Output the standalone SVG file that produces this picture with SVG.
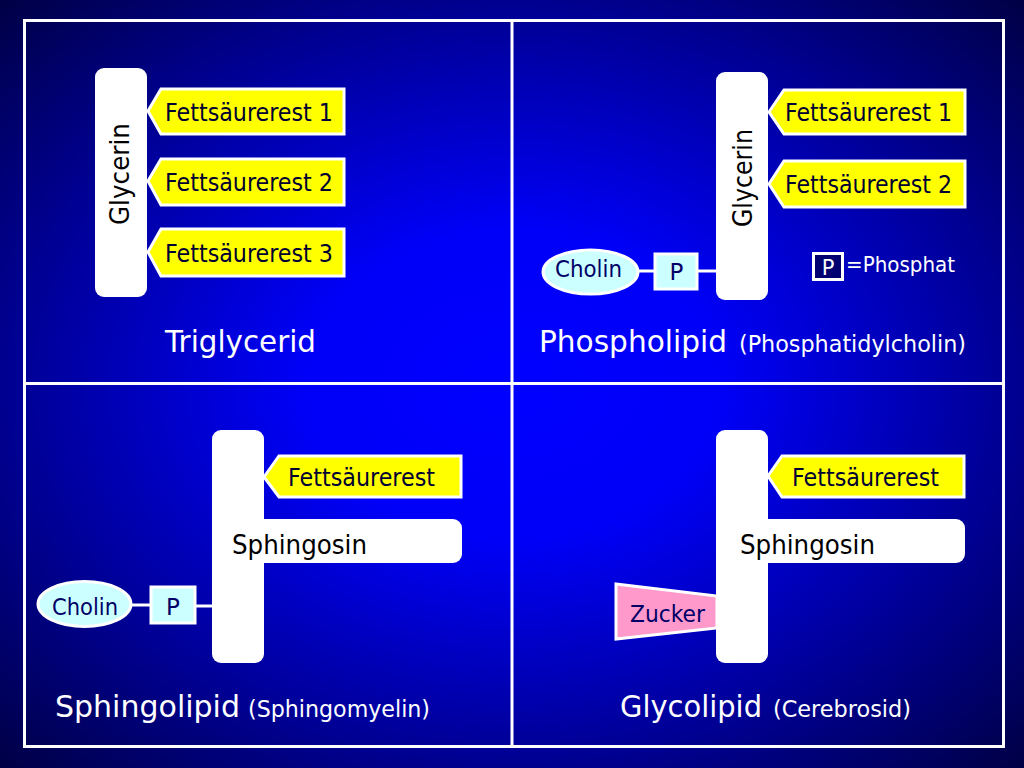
<svg xmlns="http://www.w3.org/2000/svg" width="1024" height="768" viewBox="0 0 1024 768">
<defs>
<radialGradient id="bg" cx="0.5" cy="0.5" r="0.72">
<stop offset="0" stop-color="#0000ff"/>
<stop offset="0.28" stop-color="#0000f8"/>
<stop offset="1" stop-color="#000040"/>
</radialGradient>
<style>
.t{font-family:"DejaVu Sans","Liberation Sans",sans-serif}
.bar{fill:#ffffff}
.fs{fill:#ffff00;stroke:#ffffff;stroke-width:3;stroke-linejoin:miter}
.fst{font-size:24px;fill:#000033}
.cy{fill:#ccffff;stroke:#ffffff;stroke-width:3}
.cyt{font-size:23px;fill:#000066}
.lbl{font-size:30px;fill:#ffffff}
.sub{font-size:23px;fill:#ffffff}
.con{stroke:#ffffff;stroke-width:3;fill:none}
.gly{font-size:26px;fill:#000000}
</style>
</defs>
<rect x="0" y="0" width="1024" height="768" fill="url(#bg)"/>
<g id="frame" fill="none" stroke="#ffffff" stroke-width="3">
<rect x="24.5" y="20.5" width="979" height="726"/>
<line x1="512" y1="20.5" x2="512" y2="746.5"/>
<line x1="24.5" y1="383.5" x2="1003.5" y2="383.5"/>
</g>

<g id="connectors">
<line class="con" x1="639" y1="271" x2="655" y2="271"/>
<line class="con" x1="697" y1="271" x2="717" y2="271"/>
<line class="con" x1="131" y1="605" x2="151" y2="605"/>
<line class="con" x1="195" y1="606" x2="213" y2="606"/>
</g>

<!-- Panel 1: Triglycerid -->
<g id="glycerin1">
<rect class="bar" x="95" y="68" width="52" height="229" rx="9"/>
<text class="t gly" transform="translate(129,174) rotate(-90)" text-anchor="middle" textLength="102" lengthAdjust="spacingAndGlyphs">Glycerin</text>
</g>
<g id="fs1-1">
<polygon class="fs" points="148,111 161,89 344,89 344,134 161,134"/>
<text class="t fst" x="165" y="121" textLength="168" lengthAdjust="spacingAndGlyphs">Fettsäurerest 1</text>
</g>
<g id="fs1-2">
<polygon class="fs" points="148,181 161,159 344,159 344,205 161,205"/>
<text class="t fst" x="165" y="191" textLength="168" lengthAdjust="spacingAndGlyphs">Fettsäurerest 2</text>
</g>
<g id="fs1-3">
<polygon class="fs" points="148,252 161,229 344,229 344,276 161,276"/>
<text class="t fst" x="165" y="262" textLength="168" lengthAdjust="spacingAndGlyphs">Fettsäurerest 3</text>
</g>
<g id="label1">
<text class="t lbl" x="165" y="352" textLength="151" lengthAdjust="spacingAndGlyphs">Triglycerid</text>
</g>

<!-- Panel 2: Phospholipid -->
<g id="glycerin2">
<rect class="bar" x="716" y="72" width="52" height="228" rx="9"/>
<text class="t gly" transform="translate(752,178) rotate(-90)" text-anchor="middle" textLength="98" lengthAdjust="spacingAndGlyphs">Glycerin</text>
</g>
<g id="fs2-1">
<polygon class="fs" points="769,112 784,90 965,90 965,134 784,134"/>
<text class="t fst" x="785" y="121" textLength="167" lengthAdjust="spacingAndGlyphs">Fettsäurerest 1</text>
</g>
<g id="fs2-2">
<polygon class="fs" points="769,184 784,161 965,161 965,207 784,207"/>
<text class="t fst" x="785" y="193" textLength="167" lengthAdjust="spacingAndGlyphs">Fettsäurerest 2</text>
</g>
<g id="cholin2">
<ellipse class="cy" cx="590.5" cy="272" rx="47.5" ry="22"/>
<text class="t cyt" x="555" y="277" textLength="67" lengthAdjust="spacingAndGlyphs">Cholin</text>
</g>
<g id="p2">
<rect class="cy" x="655" y="254" width="42" height="35"/>
<text class="t cyt" x="676.5" y="280" text-anchor="middle">P</text>
</g>
<g id="legend">
<rect x="813.5" y="253.5" width="29" height="26" fill="#000070" stroke="#ffffff" stroke-width="3"/>
<text class="t" x="828" y="275" text-anchor="middle" font-size="21" fill="#ffffff">P</text>
<text class="t" x="846" y="272" font-size="21" fill="#ffffff" textLength="109" lengthAdjust="spacingAndGlyphs">=Phosphat</text>
</g>
<g id="label2">
<text class="t lbl" x="539" y="352" textLength="188" lengthAdjust="spacingAndGlyphs">Phospholipid</text>
<text class="t sub" x="739" y="352" textLength="227" lengthAdjust="spacingAndGlyphs">(Phosphatidylcholin)</text>
</g>

<!-- Panel 3: Sphingolipid -->
<g id="sphingosin3">
<rect class="bar" x="212" y="430" width="52" height="233" rx="9"/>
<rect class="bar" x="240" y="519" width="222" height="44" rx="9"/>
<text class="t gly" x="232" y="554" textLength="135" lengthAdjust="spacingAndGlyphs">Sphingosin</text>
</g>
<g id="fs3">
<polygon class="fs" points="264,477 279,456 461,456 461,497 279,497"/>
<text class="t fst" x="288" y="486" textLength="147" lengthAdjust="spacingAndGlyphs">Fettsäurerest</text>
</g>
<g id="cholin3">
<ellipse class="cy" cx="84.5" cy="604" rx="46.5" ry="22.5"/>
<text class="t cyt" x="52" y="615" textLength="66" lengthAdjust="spacingAndGlyphs">Cholin</text>
</g>
<g id="p3">
<rect class="cy" x="151" y="587" width="44" height="36"/>
<text class="t cyt" x="173" y="615" text-anchor="middle">P</text>
</g>
<g id="label3">
<text class="t lbl" x="55" y="717" textLength="185" lengthAdjust="spacingAndGlyphs">Sphingolipid</text>
<text class="t sub" x="248" y="717" textLength="182" lengthAdjust="spacingAndGlyphs">(Sphingomyelin)</text>
</g>

<!-- Panel 4: Glycolipid -->
<g id="sphingosin4">
<rect class="bar" x="716" y="430" width="52" height="233" rx="9"/>
<rect class="bar" x="744" y="519" width="221" height="44" rx="9"/>
<text class="t gly" x="740" y="554" textLength="135" lengthAdjust="spacingAndGlyphs">Sphingosin</text>
</g>
<g id="fs4">
<polygon class="fs" points="768,476 782,456 964,456 964,497 782,497"/>
<text class="t fst" x="792" y="486" textLength="147" lengthAdjust="spacingAndGlyphs">Fettsäurerest</text>
</g>
<g id="zucker">
<polygon points="616,584 717,596 717,628 616,639" fill="#ff99cc" stroke="#ffffff" stroke-width="3" stroke-linejoin="miter"/>
<text class="t cyt" x="630" y="622" textLength="75" lengthAdjust="spacingAndGlyphs">Zucker</text>
</g>
<g id="label4">
<text class="t lbl" x="620" y="717" textLength="142" lengthAdjust="spacingAndGlyphs">Glycolipid</text>
<text class="t sub" x="773" y="717" textLength="138" lengthAdjust="spacingAndGlyphs">(Cerebrosid)</text>
</g>
</svg>
